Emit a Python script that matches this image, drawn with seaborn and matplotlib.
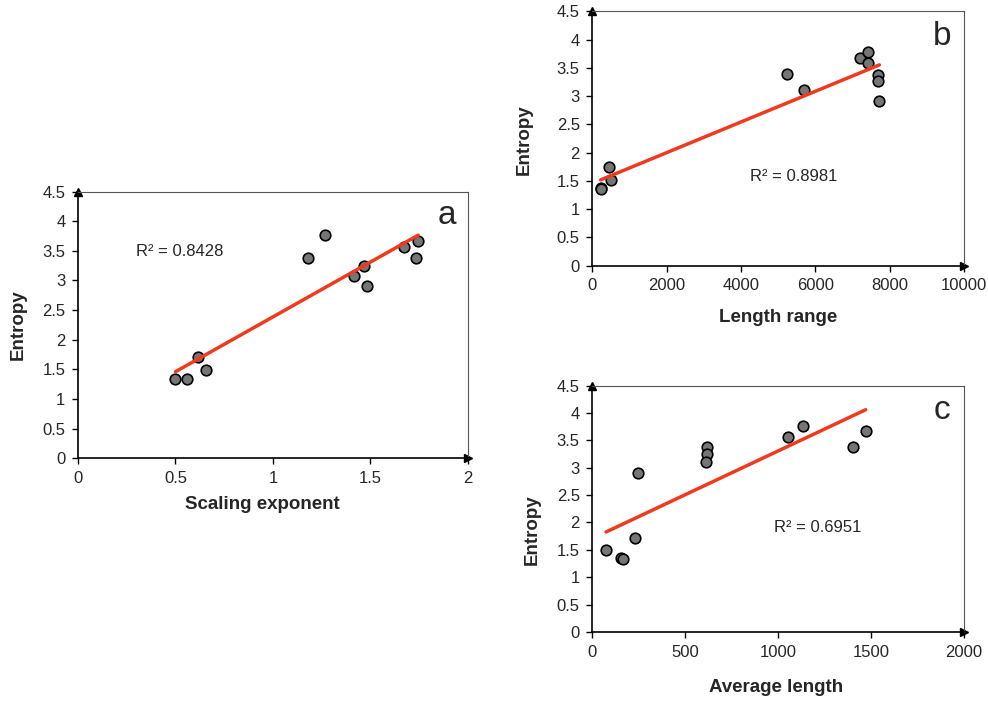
#!/usr/bin/env python3
# entropy vs. scaling exponent / length range / average length, three panels
import matplotlib
matplotlib.use('Agg')
import matplotlib.pyplot as plt
import seaborn as sns

# Panel a: scaling exponent
scaling_exp = [0.50, 0.557, 0.617, 0.655, 1.178, 1.267, 1.417, 1.468, 1.48, 1.672, 1.732, 1.745]
entropy_a = [1.34, 1.34, 1.71, 1.49, 3.37, 3.76, 3.08, 3.24, 2.90, 3.57, 3.38, 3.67]

# Panel b: length range
length_range = [224, 230, 457, 493, 5238, 5686, 7211, 7426, 7426, 7677, 7695, 7722]
entropy_b = [1.37, 1.36, 1.74, 1.51, 3.39, 3.10, 3.68, 3.78, 3.59, 3.38, 3.26, 2.91]

# Panel c: average length
avg_length = [74, 152, 167, 230, 248, 615, 615, 612, 1051, 1134, 1405, 1471]
entropy_c = [1.50, 1.36, 1.34, 1.72, 2.90, 3.37, 3.25, 3.10, 3.57, 3.77, 3.38, 3.67]

r2_labels = ['R\u00b2 = 0.8428', 'R\u00b2 = 0.8981', 'R\u00b2 = 0.6951']
panel_letters = ['a', 'b', 'c']
xlabels = ['Scaling exponent', 'Length range', 'Average length']

sns.set_style('white')
plt.rcParams['font.family'] = ['Liberation Sans', 'DejaVu Sans']

fig = plt.figure(figsize=(9.88, 7.02), dpi=100)
ax_a = fig.add_axes([0.0789, 0.3472, 0.3947, 0.380])
ax_b = fig.add_axes([0.5995, 0.6215, 0.3762, 0.3625])
ax_c = fig.add_axes([0.5995, 0.0997, 0.3762, 0.351])

panels = [
    # ax, x, y, xlim, xticks, r2 pos, letter pos, xlabel pos, ylabel pos
    (ax_a, scaling_exp, entropy_a, 2, [0, 0.5, 1, 1.5, 2], (0.30, 3.48), (1.89, 4.10), (0.472, -0.175), (-0.154, 0.5)),
    (ax_b, length_range, entropy_b, 10000, [0, 2000, 4000, 6000, 8000, 10000], (4243, 1.585), (9410, 4.06), (0.50, -0.202), (-0.184, 0.494)),
    (ax_c, avg_length, entropy_c, 2000, [0, 500, 1000, 1500, 2000], (978, 1.90), (1883, 4.04), (0.494, -0.227), (-0.162, 0.414)),
]

for i, (ax, x, y, xmax, xticks, r2pos, letpos, xlpos, ylpos) in enumerate(panels):
    sns.regplot(x=x, y=y, ax=ax, ci=None,
                scatter_kws=dict(s=58, color='#767676', edgecolor='black', linewidths=1.2, alpha=1),
                line_kws=dict(color='#f03a1e', linewidth=2.5))
    ax.set_xlim(0, xmax)
    ax.set_ylim(0, 4.5)
    ax.set_xticks(xticks)
    ax.set_xticklabels([('%g' % t) for t in xticks])
    ax.set_yticks([0, 0.5, 1, 1.5, 2, 2.5, 3, 3.5, 4, 4.5])
    ax.set_yticklabels(['0', '0.5', '1', '1.5', '2', '2.5', '3', '3.5', '4', '4.5'])
    ax.tick_params(direction='out', length=4, width=1, color='black', labelsize=12, pad=5,
                   bottom=True, left=True)

    # frame: axes black, box grey
    for side in ['left', 'bottom']:
        ax.spines[side].set_color('black')
        ax.spines[side].set_linewidth(1.2)
    for side in ['top', 'right']:
        ax.spines[side].set_color('#555555')
        ax.spines[side].set_linewidth(0.8)

    # arrow heads
    ax.plot(1, 0, '>k', ms=6, transform=ax.transAxes, clip_on=False)
    ax.plot(0, 1, '^k', ms=6, transform=ax.transAxes, clip_on=False)

    ax.text(r2pos[0], r2pos[1], r2_labels[i], fontsize=12, va='center', ha='left')
    ax.text(letpos[0], letpos[1], panel_letters[i], fontsize=24, va='center', ha='center')

    ax.set_xlabel(xlabels[i], fontsize=13.5, fontweight='bold')
    ax.set_ylabel('Entropy', fontsize=13.5, fontweight='bold')
    ax.xaxis.set_label_coords(*xlpos)
    ax.yaxis.set_label_coords(*ylpos)
    ax.xaxis.label.set_va('center')
    ax.yaxis.label.set_va('center')

fig.savefig('out.png', dpi=100)
